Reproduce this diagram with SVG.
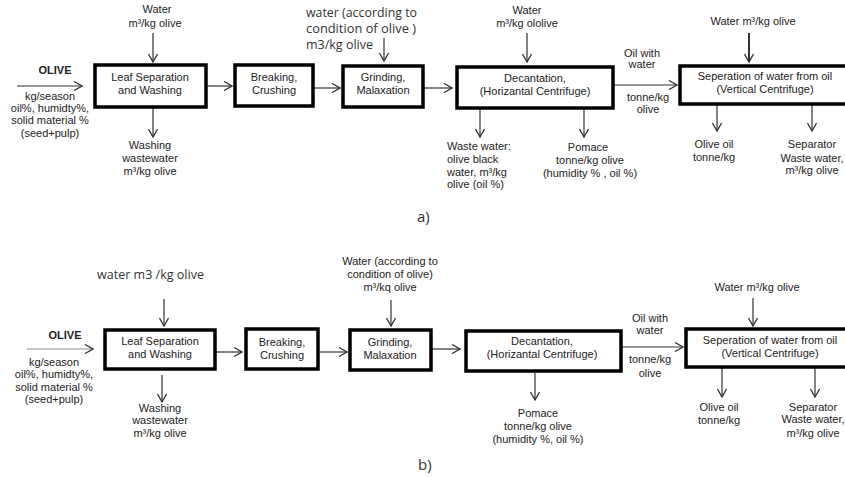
<svg xmlns="http://www.w3.org/2000/svg" width="845" height="477" viewBox="0 0 845 477">
<defs>
<marker id="ah" markerUnits="userSpaceOnUse" viewBox="0 0 10 10" refX="9" refY="5" markerWidth="10" markerHeight="10" orient="auto">
<path d="M1,0.5 L9,5 L1,9.5" fill="none" stroke="#333" stroke-width="1.3"/>
</marker>
</defs>
<style>
.box{fill:#fff;stroke:#000;stroke-width:3.5}
.t{font-family:"Liberation Sans",Arial,sans-serif;font-size:11px;fill:#222;text-anchor:middle}
.l{text-anchor:start}
.c{font-family:"Open Sans","Liberation Sans",sans-serif;font-size:12px;fill:#333}
.b{font-weight:bold}
.cn line{stroke:#333;stroke-width:1.2;marker-end:url(#ah)}
</style>
<rect width="845" height="477" fill="#fff"/>

<!-- connectors -->
<g id="connectors" class="cn">
<!-- a -->
<line x1="17" y1="86" x2="82" y2="86"/>
<line x1="153" y1="33" x2="153" y2="62"/>
<line x1="206" y1="86" x2="232" y2="86"/>
<line x1="153" y1="108" x2="153" y2="137"/>
<line x1="313" y1="88" x2="340" y2="88"/>
<line x1="384" y1="38" x2="384" y2="61"/>
<line x1="423" y1="88" x2="452" y2="88"/>
<line x1="527" y1="33" x2="527" y2="62"/>
<line x1="480" y1="108" x2="480" y2="137"/>
<line x1="584" y1="108" x2="584" y2="137"/>
<line x1="613" y1="85" x2="677" y2="85"/>
<line x1="749" y1="33" x2="749" y2="62" style="stroke:#000;stroke-width:1.6"/>
<line x1="717" y1="104" x2="717" y2="131"/>
<line x1="812" y1="104" x2="812" y2="131"/>
<!-- b -->
<line x1="27" y1="349" x2="93" y2="349" style="stroke:#888"/>
<line x1="164" y1="299" x2="164" y2="326"/>
<line x1="215" y1="352" x2="242" y2="352"/>
<line x1="162" y1="375" x2="162" y2="402"/>
<line x1="318" y1="352" x2="347" y2="352"/>
<line x1="391" y1="300" x2="391" y2="326"/>
<line x1="431" y1="349" x2="460" y2="349"/>
<line x1="535" y1="373" x2="535" y2="400"/>
<line x1="622" y1="347" x2="683" y2="347"/>
<line x1="753" y1="298" x2="753" y2="326"/>
<line x1="722" y1="368" x2="722" y2="397"/>
<line x1="815" y1="368" x2="815" y2="397"/>
</g>

<!-- a) nodes -->
<g id="a-leaf"><rect class="box" x="95" y="65" width="111" height="42"/>
<text class="t" x="150" y="81">Leaf Separation</text><text class="t" x="150" y="94">and Washing</text></g>
<g id="a-break"><rect class="box" x="235" y="65" width="78" height="41"/>
<text class="t" x="274" y="81">Breaking,</text><text class="t" x="274" y="94">Crushing</text></g>
<g id="a-grind"><rect class="box" x="343" y="66" width="80" height="41"/>
<text class="t" x="383" y="81">Grinding,</text><text class="t" x="383" y="94">Malaxation</text></g>
<g id="a-decant"><rect class="box" x="457" y="67" width="156" height="41"/>
<text class="t" x="535" y="82">Decantation,</text><text class="t" x="535" y="95">(Horizantal Centrifuge)</text></g>
<g id="a-sep"><rect class="box" x="680" y="66" width="170" height="38"/>
<text class="t" x="765" y="80">Seperation of water from oil</text><text class="t" x="765" y="93">(Vertical Centrifuge)</text></g>

<g id="a-labels">
<text class="t" x="157" y="13">Water</text><text class="t" x="155" y="27">m³/kg olive</text>
<text class="t b" x="55" y="74">OLIVE</text>
<text class="t" x="50" y="100">kg/season</text><text class="t" x="50" y="112">oil%, humidty%,</text>
<text class="t" x="50" y="124">solid material %</text><text class="t" x="50" y="137">(seed+pulp)</text>
<text class="t" x="150" y="149">Washing</text><text class="t" x="150" y="162">wastewater</text><text class="t" x="150" y="175">m³/kg olive</text>
<text class="c" x="306" y="17" textLength="111" lengthAdjust="spacingAndGlyphs">water (according to</text>
<text class="c" x="306" y="33" textLength="110" lengthAdjust="spacingAndGlyphs">condition of olive )</text>
<text class="c" x="306" y="49" textLength="67" lengthAdjust="spacingAndGlyphs">m3/kg olive</text>
<text class="t" x="527" y="14">Water</text><text class="t" x="527" y="27">m³/kg  ololive</text>
<text class="t l" x="447" y="150">Waste water:</text><text class="t l" x="447" y="163">olive black</text>
<text class="t l" x="447" y="176">water, m³/kg</text><text class="t l" x="447" y="188">olive (oil %)</text>
<text class="t" x="588" y="151">Pomace</text><text class="t" x="590" y="164">tonne/kg olive</text><text class="t" x="590" y="177">(humidity % , oil %)</text>
<text class="t" x="642" y="57">Oil with</text><text class="t" x="642" y="68">water</text>
<text class="t" x="648" y="101">tonne/kg</text><text class="t" x="648" y="113">olive</text>
<text class="t" x="753" y="25">Water m³/kg olive</text>
<text class="t" x="714" y="148">Olive oil</text><text class="t" x="714" y="161">tonne/kg</text>
<text class="t" x="812" y="148">Separator</text><text class="t" x="812" y="162">Waste water,</text><text class="t" x="812" y="174">m³/kg olive</text>
<text class="c" x="417" y="222" style="font-size:15px">a)</text>
</g>

<!-- b) nodes -->
<g id="b-leaf"><rect class="box" x="105" y="330" width="110" height="39"/>
<text class="t" x="160" y="345">Leaf Separation</text><text class="t" x="160" y="358">and Washing</text></g>
<g id="b-break"><rect class="box" x="246" y="329" width="72" height="40"/>
<text class="t" x="282" y="346">Breaking,</text><text class="t" x="282" y="359">Crushing</text></g>
<g id="b-grind"><rect class="box" x="350" y="330" width="81" height="40"/>
<text class="t" x="390" y="346">Grinding,</text><text class="t" x="390" y="359">Malaxation</text></g>
<g id="b-decant"><rect class="box" x="466" y="331" width="155" height="40"/>
<text class="t" x="542" y="345">Decantation,</text><text class="t" x="542" y="358">(Horizantal Centrifuge)</text></g>
<g id="b-sep"><rect class="box" x="686" y="329" width="170" height="38"/>
<text class="t" x="770" y="344">Seperation of water from oil</text><text class="t" x="770" y="357">(Vertical Centrifuge)</text></g>

<g id="b-labels">
<text class="c" x="97" y="279" textLength="107" lengthAdjust="spacingAndGlyphs" style="font-size:13px">water m3 /kg olive</text>
<text class="t b" x="65" y="339">OLIVE</text>
<text class="t" x="54" y="366">kg/season</text><text class="t" x="54" y="378">oil%, humidty%,</text>
<text class="t" x="54" y="391">solid material %</text><text class="t" x="54" y="403">(seed+pulp)</text>
<text class="t" x="160" y="412">Washing</text><text class="t" x="160" y="424">wastewater</text><text class="t" x="160" y="437">m³/kg olive</text>
<text class="t" x="390" y="265">Water (according to</text><text class="t" x="390" y="278">condition of olive)</text><text class="t" x="390" y="291">m³/kq olive</text>
<text class="t" x="538" y="417">Pomace</text><text class="t" x="538" y="430">tonne/kg olive</text><text class="t" x="538" y="443">(humidity %, oil %)</text>
<text class="t" x="650" y="322">Oil with</text><text class="t" x="650" y="334">water</text>
<text class="t" x="650" y="363">tonne/kg</text><text class="t" x="650" y="377">olive</text>
<text class="t" x="757" y="291">Water m³/kg olive</text>
<text class="t" x="719" y="411">Olive oil</text><text class="t" x="719" y="424">tonne/kg</text>
<text class="t" x="813" y="411">Separator</text><text class="t" x="813" y="423">Waste water,</text><text class="t" x="813" y="437">m³/kg olive</text>
<text class="c" x="418" y="470" style="font-size:15px">b)</text>
</g>
</svg>
